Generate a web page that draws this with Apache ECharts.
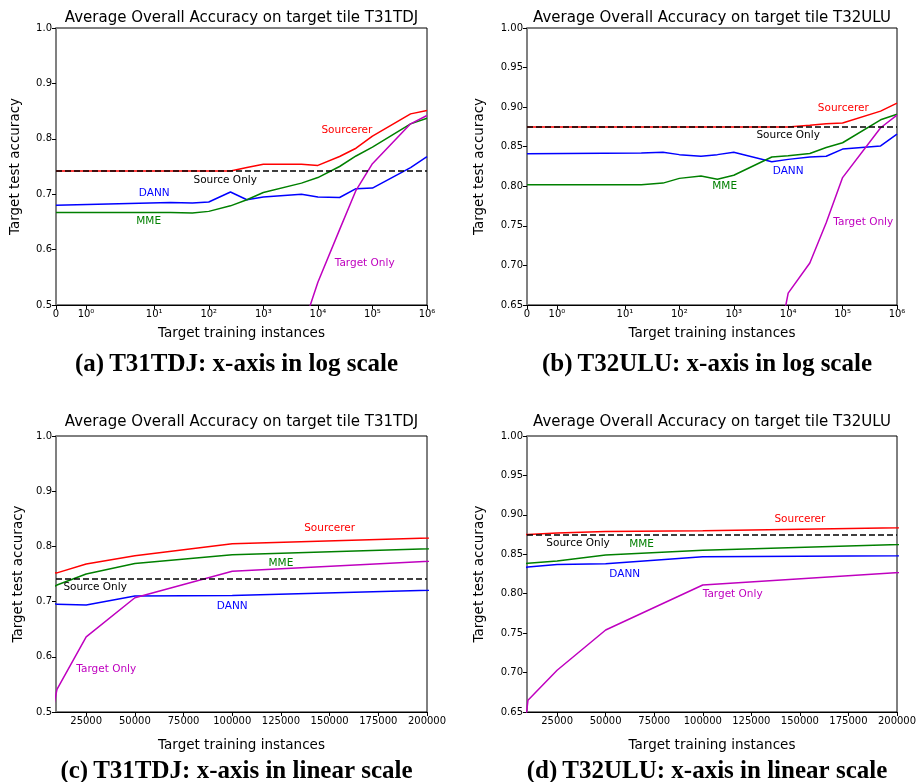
<!DOCTYPE html>
<html>
<head>
<meta charset="utf-8">
<script src="https://cdn.jsdelivr.net/npm/echarts@6/dist/echarts.min.js"></script>
<style>
  html, body { margin: 0; padding: 0; background: #fff; }
  #main { width: 921px; height: 782px; }
</style>
</head>
<body>
<div id="main"></div>
<script>
// number of target training instances
const trainSizes = [0, 20, 50, 100, 250, 500, 1000, 5000, 10000, 25000, 50000, 100000, 500000, 1000000];

// T31TDJ
const t31Sourcerer = [0.742, 0.742, 0.742, 0.742, 0.742, 0.748, 0.754, 0.754, 0.752, 0.768, 0.783, 0.805, 0.845, 0.851];
const t31Dann      = [0.680, 0.685, 0.684, 0.686, 0.704, 0.690, 0.695, 0.700, 0.695, 0.694, 0.710, 0.711, 0.748, 0.768];
const t31Mme       = [0.667, 0.667, 0.666, 0.669, 0.679, 0.690, 0.703, 0.720, 0.730, 0.750, 0.769, 0.785, 0.827, 0.837];
const t31Target    = [null, null, null, null, null, null, null, 0.452, 0.541, 0.636, 0.707, 0.755, 0.827, 0.842];
const t31SourceOnly = 0.742;

// T32ULU
const t32Sourcerer = [0.875, 0.875, 0.875, 0.875, 0.875, 0.875, 0.875, 0.875, 0.875, 0.877, 0.879, 0.880, 0.895, 0.905];
const t32Dann      = [0.841, 0.842, 0.843, 0.840, 0.838, 0.840, 0.843, 0.831, 0.834, 0.837, 0.838, 0.847, 0.851, 0.866];
const t32Mme       = [0.802, 0.802, 0.804, 0.810, 0.813, 0.809, 0.814, 0.837, 0.8385, 0.8415, 0.849, 0.855, 0.884, 0.891];
const t32Target    = [null, null, null, null, null, null, null, 0.559, 0.665, 0.703, 0.754, 0.811, 0.874, 0.890];
const t32SourceOnly = 0.875;

const logTickValues = [0, 1, 10, 100, 1000, 10000, 100000, 1000000];
const logTickLabels = ['0', '10\u2070', '10\u00b9', '10\u00b2', '10\u00b3', '10\u2074', '10\u2075', '10\u2076'];
const linTickValues = [25000, 50000, 75000, 100000, 125000, 150000, 175000, 200000];

// where the curve names sit, [x, y] in data units
const t31LogNotes = { Sourcerer: [34000, 0.816], 'Source Only': [200, 0.726], DANN: [10, 0.701], MME: [8.3, 0.651], 'Target Only': [72000, 0.576] };
const t32LogNotes = { Sourcerer: [103000, 0.899], 'Source Only': [10000, 0.864], DANN: [10000, 0.819], MME: [680, 0.800], 'Target Only': [240000, 0.754] };
const t31LinNotes = { Sourcerer: [150000, 0.832], 'Source Only': [29600, 0.726], DANN: [100000, 0.691], MME: [125000, 0.769], 'Target Only': [35300, 0.577] };
const t32LinNotes = { Sourcerer: [150000, 0.894], 'Source Only': [35800, 0.864], DANN: [59800, 0.825], MME: [68500, 0.863], 'Target Only': [115400, 0.799] };

// symlog-like position used by the original x axis
const symlog = x => {
    if (x <= 1) return 0.55 * x;
    if (x <= 10) return 0.55 + 1.25 * Math.log10(x);
    return 0.8 + Math.log10(x);
};
const identity = x => x;

const colors = { Sourcerer: '#ff0000', DANN: '#0000ff', MME: '#008000', 'Target Only': '#bf00bf', 'Source Only': '#000000' };
const FONT = 'DejaVu Sans';

const grids = [
    { left: 56, top: 28, width: 371, height: 277 },
    { left: 527, top: 28, width: 370, height: 277 },
    { left: 56, top: 436, width: 371, height: 276 },
    { left: 527, top: 436, width: 370, height: 276 }
];
const titleTops = [6, 6, 410, 410];
const yNameGaps = [34, 41, 31, 41];
const xNameGaps = [21, 21, 26, 26];

const panels = [
    { tile: 'T31TDJ', log: true, vals: [t31Sourcerer, t31Dann, t31Mme, t31Target], src: t31SourceOnly, notes: t31LogNotes, yMin: 0.5, yStep: 0.1, dec: 1 },
    { tile: 'T32ULU', log: true, vals: [t32Sourcerer, t32Dann, t32Mme, t32Target], src: t32SourceOnly, notes: t32LogNotes, yMin: 0.65, yStep: 0.05, dec: 2 },
    { tile: 'T31TDJ', log: false, vals: [t31Sourcerer, t31Dann, t31Mme, t31Target], src: t31SourceOnly, notes: t31LinNotes, yMin: 0.5, yStep: 0.1, dec: 1 },
    { tile: 'T32ULU', log: false, vals: [t32Sourcerer, t32Dann, t32Mme, t32Target], src: t32SourceOnly, notes: t32LinNotes, yMin: 0.65, yStep: 0.05, dec: 2 }
];
const names = ['Sourcerer', 'DANN', 'MME', 'Target Only'];

const xAxes = [], yAxes = [], series = [], titles = [];

panels.forEach((p, k) => {
    const sx = p.log ? symlog : identity;
    const tickPos = p.log ? logTickValues.map(symlog) : linTickValues;
    const g = grids[k];
    const cx = g.left + g.width / 2;

    xAxes.push({
        gridIndex: k, type: 'value',
        min: p.log ? 0 : 9500, max: p.log ? symlog(1000000) : 200000,
        name: 'Target training instances', nameLocation: 'middle', nameGap: xNameGaps[k],
        nameTextStyle: { fontFamily: FONT, fontSize: 13.5, color: '#000' },
        axisLine: { lineStyle: { color: '#000', width: 1 } },
        axisTick: { customValues: tickPos, length: 4, lineStyle: { color: '#000' } },
        axisLabel: {
            customValues: tickPos, fontFamily: FONT, fontSize: 10, color: '#000', margin: 4,
            formatter: v => {
                if (!p.log) return String(v);
                const i = tickPos.findIndex(t => Math.abs(t - v) < 1e-6);
                return i >= 0 ? logTickLabels[i] : '';
            }
        },
        splitLine: { show: false }
    });

    yAxes.push({
        gridIndex: k, type: 'value', min: p.yMin, max: 1.0, interval: p.yStep,
        name: 'Target test accuracy', nameLocation: 'middle', nameGap: yNameGaps[k],
        nameTextStyle: { fontFamily: FONT, fontSize: 13.5, color: '#000' },
        axisLine: { lineStyle: { color: '#808080', width: 2 } },
        axisTick: { length: 4, lineStyle: { color: '#000' } },
        axisLabel: { fontFamily: FONT, fontSize: 10, color: '#000', margin: 4, formatter: v => v.toFixed(p.dec) },
        splitLine: { show: false }
    });

    const note = (name) => ({
        symbolSize: 0,
        data: [{ coord: [sx(p.notes[name][0]), p.notes[name][1]], value: name }],
        label: { show: true, position: 'inside', formatter: name, fontFamily: FONT, fontSize: 10.5, color: colors[name] }
    });

    // Source Only baseline
    series.push({
        name: 'Source Only', type: 'line', xAxisIndex: k, yAxisIndex: k, data: [], z: 1,
        markLine: {
            silent: true, symbol: ['none', 'none'], animation: false, precision: 4,
            lineStyle: { color: '#000', width: 1.5, type: [6, 3] },
            label: { show: false },
            data: [{ yAxis: p.src }]
        },
        markPoint: note('Source Only')
    });

    names.forEach((name, j) => {
        const data = [];
        trainSizes.forEach((x, i) => {
            if (p.vals[j][i] != null) data.push([sx(x), p.vals[j][i]]);
        });
        series.push({
            name, type: 'line', xAxisIndex: k, yAxisIndex: k, data, z: 3,
            showSymbol: false, clip: true, animation: false,
            lineStyle: { color: colors[name], width: 1.5 },
            itemStyle: { color: colors[name] },
            markPoint: note(name)
        });
    });

    titles.push({
        text: 'Average Overall Accuracy on target tile ' + p.tile,
        left: cx - 5, top: titleTops[k], textAlign: 'center',
        textStyle: { fontFamily: FONT, fontSize: 15, fontWeight: 'normal', color: '#000' }
    });
    const letter = ['a', 'b', 'c', 'd'][k];
    titles.push({
        text: '{b|(' + letter + ')} {n|' + p.tile + ': x-axis in ' + (p.log ? 'log' : 'linear') + ' scale}',
        left: cx - 10, top: g.top + g.height + 42, textAlign: 'center',
        textStyle: {
            rich: {
                b: { fontFamily: 'Liberation Serif', fontSize: 25, fontWeight: 'bold', color: '#000' },
                n: { fontFamily: 'Liberation Serif', fontSize: 25, color: '#000' }
            }
        }
    });
});

const chart = echarts.init(document.getElementById('main'));
chart.setOption({
    animation: false,
    backgroundColor: '#fff',
    title: titles,
    grid: grids.map(g => Object.assign({ show: true, borderColor: '#000', borderWidth: 1, backgroundColor: 'transparent' }, g)),
    xAxis: xAxes,
    yAxis: yAxes,
    series
});
</script>
</body>
</html>
